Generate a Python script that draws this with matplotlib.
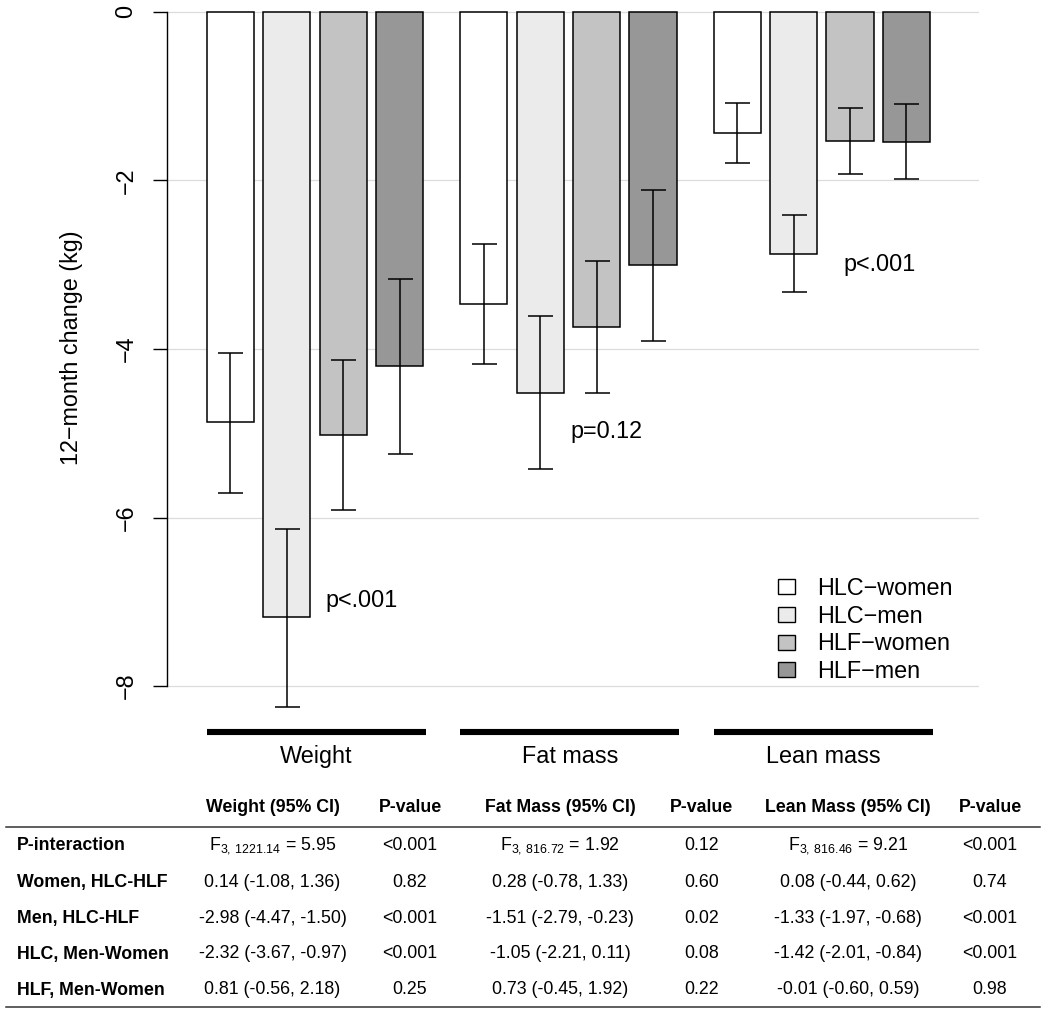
import matplotlib
matplotlib.use("Agg")
import matplotlib.pyplot as plt
from matplotlib.patches import Patch
import numpy as np

plt.rcParams['font.family'] = ['Liberation Sans', 'DejaVu Sans']
plt.rcParams['mathtext.fontset'] = 'custom'
plt.rcParams['mathtext.rm'] = 'Liberation Sans'

# ---------------- data ----------------
groups = ["Weight", "Fat mass", "Lean mass"]
series = ["HLC\u2212women", "HLC\u2212men", "HLF\u2212women", "HLF\u2212men"]
colors = ["#ffffff", "#ebebeb", "#c3c3c3", "#979797"]

weight_mean = [-4.87, -7.18, -5.02, -4.20]
weight_lo = [-5.71, -8.25, -5.91, -5.25]
weight_hi = [-4.05, -6.14, -4.13, -3.17]
fat_mean = [-3.47, -4.52, -3.74, -3.01]
fat_lo = [-4.18, -5.43, -4.52, -3.91]
fat_hi = [-2.76, -3.61, -2.96, -2.12]
lean_mean = [-1.44, -2.87, -1.53, -1.54]
lean_lo = [-1.80, -3.33, -1.92, -1.99]
lean_hi = [-1.08, -2.41, -1.14, -1.09]

p_labels = ["p<.001", "p=0.12", "p<.001"]
yticks = [0, -2, -4, -6, -8]

table_header = ["Weight (95% CI)", "P-value", "Fat Mass (95% CI)", "P-value",
                "Lean Mass (95% CI)", "P-value"]
row_labels = ["P-interaction", "Women, HLC-HLF", "Men, HLC-HLF",
              "HLC, Men-Women", "HLF, Men-Women"]
col_weight = [r"$\mathregular{F_{3,\,1221.14}}$ = 5.95", "0.14 (-1.08, 1.36)",
              "-2.98 (-4.47, -1.50)", "-2.32 (-3.67, -0.97)", "0.81 (-0.56, 2.18)"]
col_weight_p = ["<0.001", "0.82", "<0.001", "<0.001", "0.25"]
col_fat = [r"$\mathregular{F_{3,\,816.72}}$ = 1.92", "0.28 (-0.78, 1.33)",
           "-1.51 (-2.79, -0.23)", "-1.05 (-2.21, 0.11)", "0.73 (-0.45, 1.92)"]
col_fat_p = ["0.12", "0.60", "0.02", "0.08", "0.22"]
col_lean = [r"$\mathregular{F_{3,\,816.46}}$ = 9.21", "0.08 (-0.44, 0.62)",
            "-1.33 (-1.97, -0.68)", "-1.42 (-2.01, -0.84)", "-0.01 (-0.60, 0.59)"]
col_lean_p = ["<0.001", "0.74", "<0.001", "<0.001", "0.98"]

# ---------------- figure ----------------
W, H = 1050, 1015
fig = plt.figure(figsize=(W / 100, H / 100), dpi=100)
cfs = 16.8  # chart font size

px_per_unit_y = 84.3
y0_px = 11.7
ax_top_px, ax_bot_px = 0, 780
ax_left_px, ax_right_px = 166.7, 979
ax = fig.add_axes([ax_left_px / W, 1 - ax_bot_px / H,
                   (ax_right_px - ax_left_px) / W, (ax_bot_px - ax_top_px) / H])
ax.set_ylim(-(ax_bot_px - y0_px) / px_per_unit_y, (y0_px - ax_top_px) / px_per_unit_y)

unit_px = 47.2
first_bar_px = 206.7
ax.set_xlim((ax_left_px - first_bar_px) / unit_px, (ax_right_px - first_bar_px) / unit_px)

bar_w = 1.0
bar_step = 1.195
group_step = 5.37

means = [weight_mean, fat_mean, lean_mean]
los = [weight_lo, fat_lo, lean_lo]
his = [weight_hi, fat_hi, lean_hi]

for t in yticks:
    ax.axhline(t, color="#dcdcdc", lw=0.9, zorder=0)

for g in range(3):
    xs = np.array([g * group_step + j * bar_step + bar_w / 2 for j in range(4)])
    m = np.array(means[g]); lo = np.array(los[g]); hi = np.array(his[g])
    ax.bar(xs, m, width=bar_w, color=colors, edgecolor="black", linewidth=1.1, zorder=2)
    ax.errorbar(xs, m, yerr=[m - lo, hi - m], fmt="none", ecolor="black",
                elinewidth=1.1, capsize=9, capthick=1.1, zorder=3)
    left = xs[0] - bar_w / 2
    right = xs[-1] + bar_w / 2 + 0.06
    ax.plot([left, right], [-8.55, -8.55], color="black", lw=4.4,
            solid_capstyle="butt", clip_on=False, zorder=3)
    ax.text((left + right) / 2, -8.84, groups[g], ha="center", va="center",
            fontsize=cfs, clip_on=False)

# p-value annotations
ax.text(2.506, -6.99, p_labels[0], ha="left", va="center", fontsize=cfs)
ax.text(7.697, -4.98, p_labels[1], ha="left", va="center", fontsize=cfs)
ax.text(13.48, -3.0, p_labels[2], ha="left", va="center", fontsize=cfs)

# axes styling
for s in ["top", "right", "bottom"]:
    ax.spines[s].set_visible(False)
ax.spines["left"].set_bounds(-8, 0)
ax.spines["left"].set_linewidth(1.0)
ax.set_yticks(yticks)
ax.set_yticklabels(["0", "\u22122", "\u22124", "\u22126", "\u22128"])
ax.tick_params(axis="y", length=10, width=1.0, pad=11, labelsize=cfs, labelrotation=90)
for lab in ax.get_yticklabels():
    lab.set_va("center")
ax.set_xticks([])
ax.patch.set_alpha(0)

fig.text(71.7 / W, 1 - 348 / H, "12\u2212month change (kg)", rotation=90,
         ha="center", va="center", fontsize=cfs)

handles = [Patch(facecolor=c, edgecolor="black", linewidth=1.0) for c in colors]
fig.legend(handles, series, loc="upper left",
           bbox_to_anchor=(777.7 / W, 1 - 577 / H), bbox_transform=fig.transFigure,
           frameon=False, fontsize=cfs, borderpad=0, borderaxespad=0,
           handlelength=0.74, handleheight=0.6, handletextpad=0.95, labelspacing=0.2)

# ---------------- table ----------------
def fy(p):
    return 1 - p / H

col_x = [272.5, 410, 560, 701.5, 848, 990]
header_y = 808
row_y = [846, 882.3, 918.3, 954, 990]
tfs = 12.8

for x, h in zip(col_x, table_header):
    fig.text(x / W, fy(header_y), h, ha="center", va="center", fontsize=tfs,
             fontweight="bold")

for y, lab in zip(row_y, row_labels):
    fig.text(16.7 / W, fy(y), lab, ha="left", va="center", fontsize=tfs,
             fontweight="bold")

cols = [col_weight, col_weight_p, col_fat, col_fat_p, col_lean, col_lean_p]
for x, col in zip(col_x, cols):
    for y, v in zip(row_y, col):
        fig.text(x / W, fy(y), v, ha="center", va="center", fontsize=tfs)

for yl in [827.3, 1007.3]:
    fig.add_artist(plt.Line2D([6 / W, 1040 / W], [fy(yl), fy(yl)],
                              color="#333333", lw=1.1, transform=fig.transFigure))

fig.savefig("out.png", dpi=100)
